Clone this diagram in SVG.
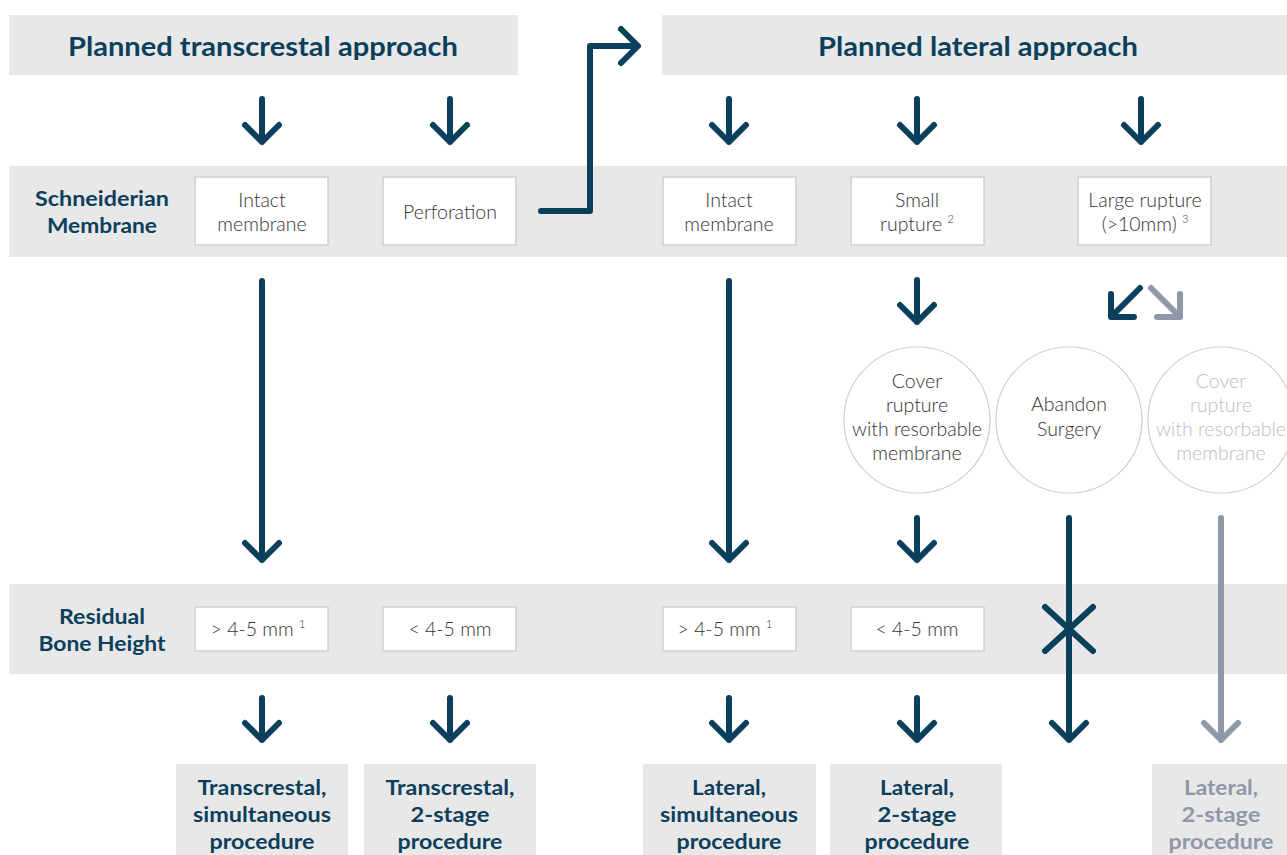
<svg xmlns="http://www.w3.org/2000/svg" width="1287" height="855" viewBox="0 0 1287 855">
<style>
.band{fill:#e8e8e8}
.box{fill:#fff;stroke:#cfcfcf;stroke-width:1.5}
.circ{fill:#fff;stroke:#cfcfcf;stroke-width:1.2}
.title{font-family:"Lato","Noto Sans",sans-serif;font-weight:700;font-size:27px;fill:#0b3f5c;text-anchor:middle}
.lab{font-family:"Lato","Noto Sans",sans-serif;font-weight:700;font-size:20px;fill:#0b3f5c;text-anchor:middle}
.res{font-family:"Lato","Noto Sans",sans-serif;font-weight:700;font-size:20.5px;fill:#0b3f5c;text-anchor:middle}
.resg{fill:#8f97a8}
.t{font-family:"Lato","Open Sans",sans-serif;font-weight:300;font-size:19.5px;fill:#333;text-anchor:middle}
.tg{fill:#bdbdbd}
.sup{font-size:11px}
.arr{fill:none;stroke:#0b3f5c;stroke-width:6;stroke-linecap:round;stroke-linejoin:round}
.arrg{fill:none;stroke:#8f97a8;stroke-width:6;stroke-linecap:round;stroke-linejoin:round}
</style>
<rect width="1287" height="855" fill="#fff"/>
<g id="bands">
<rect class="band" x="9" y="166" width="1278" height="91"/>
<rect class="band" x="9" y="584" width="1278" height="90"/>
</g>
<g id="title-transcrestal"><rect class="band" x="9" y="15" width="509" height="60"/><text class="title" x="263" y="56" textLength="390" lengthAdjust="spacingAndGlyphs">Planned transcrestal approach</text></g>
<g id="title-lateral"><rect class="band" x="662" y="15" width="625" height="60"/><text class="title" x="978" y="56" textLength="320" lengthAdjust="spacingAndGlyphs">Planned lateral approach</text></g>
<g id="label-membrane"><text class="lab" x="102" y="206" textLength="134" lengthAdjust="spacingAndGlyphs">Schneiderian</text><text class="lab" x="102" y="233" textLength="110" lengthAdjust="spacingAndGlyphs">Membrane</text></g>
<g id="label-bone"><text class="lab" x="102" y="624" textLength="86" lengthAdjust="spacingAndGlyphs">Residual</text><text class="lab" x="102" y="651" textLength="127" lengthAdjust="spacingAndGlyphs">Bone Height</text></g>
<g id="m1"><rect class="box" x="195" y="177" width="133" height="68"/><text class="t" x="262" y="207">Intact</text><text class="t" x="262" y="231">membrane</text></g>
<g id="m2"><rect class="box" x="383" y="177" width="133" height="68"/><text class="t" x="450" y="219">Perforation</text></g>
<g id="m3"><rect class="box" x="663" y="177" width="133" height="68"/><text class="t" x="729" y="207">Intact</text><text class="t" x="729" y="231">membrane</text></g>
<g id="m4"><rect class="box" x="851" y="177" width="133" height="68"/><text class="t" x="917" y="207">Small</text><text class="t" x="917" y="231">rupture <tspan class="sup" dy="-8">2</tspan></text></g>
<g id="m5"><rect class="box" x="1078" y="177" width="133" height="68"/><text class="t" x="1145" y="207">Large rupture</text><text class="t" x="1145" y="231">(&gt;10mm) <tspan class="sup" dy="-8">3</tspan></text></g>
<g id="c1"><circle class="circ" cx="917" cy="420" r="73"/><text class="t" x="917" y="388">Cover</text><text class="t" x="917" y="412">rupture</text><text class="t" x="917" y="436">with resorbable</text><text class="t" x="917" y="460">membrane</text></g>
<g id="c2"><circle class="circ" cx="1069" cy="420" r="73"/><text class="t" x="1069" y="411">Abandon</text><text class="t" x="1069" y="436">Surgery</text></g>
<g id="c3"><circle class="circ" cx="1221" cy="420" r="73"/><text class="t tg" x="1221" y="388">Cover</text><text class="t tg" x="1221" y="412">rupture</text><text class="t tg" x="1221" y="436">with resorbable</text><text class="t tg" x="1221" y="460">membrane</text></g>
<g id="h1"><rect class="box" x="195" y="607" width="133" height="44"/><text class="t" x="258" y="636">&gt; 4-5 mm <tspan class="sup" dy="-8">1</tspan></text></g>
<g id="h2"><rect class="box" x="383" y="607" width="133" height="44"/><text class="t" x="450" y="636">&lt; 4-5 mm</text></g>
<g id="h3"><rect class="box" x="663" y="607" width="133" height="44"/><text class="t" x="725" y="636">&gt; 4-5 mm <tspan class="sup" dy="-8">1</tspan></text></g>
<g id="h4"><rect class="box" x="851" y="607" width="133" height="44"/><text class="t" x="917" y="636">&lt; 4-5 mm</text></g>
<g id="p1"><rect class="band" x="176" y="764" width="172" height="91"/><text class="res" x="262" y="795" textLength="129" lengthAdjust="spacingAndGlyphs">Transcrestal,</text><text class="res" x="262" y="822" textLength="138" lengthAdjust="spacingAndGlyphs">simultaneous</text><text class="res" x="262" y="849" textLength="105" lengthAdjust="spacingAndGlyphs">procedure</text></g>
<g id="p2"><rect class="band" x="364" y="764" width="172" height="91"/><text class="res" x="450" y="795" textLength="129" lengthAdjust="spacingAndGlyphs">Transcrestal,</text><text class="res" x="450" y="822" textLength="79" lengthAdjust="spacingAndGlyphs">2-stage</text><text class="res" x="450" y="849" textLength="105" lengthAdjust="spacingAndGlyphs">procedure</text></g>
<g id="p3"><rect class="band" x="643" y="764" width="173" height="91"/><text class="res" x="729" y="795" textLength="74" lengthAdjust="spacingAndGlyphs">Lateral,</text><text class="res" x="729" y="822" textLength="138" lengthAdjust="spacingAndGlyphs">simultaneous</text><text class="res" x="729" y="849" textLength="105" lengthAdjust="spacingAndGlyphs">procedure</text></g>
<g id="p4"><rect class="band" x="830" y="764" width="172" height="91"/><text class="res" x="917" y="795" textLength="74" lengthAdjust="spacingAndGlyphs">Lateral,</text><text class="res" x="917" y="822" textLength="79" lengthAdjust="spacingAndGlyphs">2-stage</text><text class="res" x="917" y="849" textLength="105" lengthAdjust="spacingAndGlyphs">procedure</text></g>
<g id="p5"><rect class="band" x="1152" y="764" width="135" height="91"/><text class="res resg" x="1221" y="795" textLength="74" lengthAdjust="spacingAndGlyphs">Lateral,</text><text class="res resg" x="1221" y="822" textLength="79" lengthAdjust="spacingAndGlyphs">2-stage</text><text class="res resg" x="1221" y="849" textLength="105" lengthAdjust="spacingAndGlyphs">procedure</text></g>
<g id="connectors">
<path class="arr" d="M262 99V142M245 125L262 142L279 125"/>
<path class="arr" d="M450 99V142M433 125L450 142L467 125"/>
<path class="arr" d="M729 99V142M712 125L729 142L746 125"/>
<path class="arr" d="M917 99V142M900 125L917 142L934 125"/>
<path class="arr" d="M1141 99V142M1124 125L1141 142L1158 125"/>
<path class="arr" d="M541 211H590V46H637M621 29L638 46L621 63"/>
<path class="arr" d="M262 281V560M245 543L262 560L279 543"/>
<path class="arr" d="M729 281V560M712 543L729 560L746 543"/>
<path class="arr" d="M917 280V322M900 305L917 322L934 305"/>
<path class="arr" d="M1140 288L1112 316M1111 294V317H1134"/>
<path class="arrg" d="M1151 288L1179 316M1180 294V317H1157"/>
<path class="arr" d="M917 518V560M900 543L917 560L934 543"/>
<path class="arr" d="M1069 518V740M1052 723L1069 740L1086 723"/>
<path class="arr" d="M1045 607L1093 651M1093 607L1045 651"/>
<path class="arrg" d="M1221 518V740M1204 723L1221 740L1238 723"/>
<path class="arr" d="M262 698V740M245 723L262 740L279 723"/>
<path class="arr" d="M450 698V740M433 723L450 740L467 723"/>
<path class="arr" d="M729 698V740M712 723L729 740L746 723"/>
<path class="arr" d="M917 698V740M900 723L917 740L934 723"/>
</g>
</svg>
